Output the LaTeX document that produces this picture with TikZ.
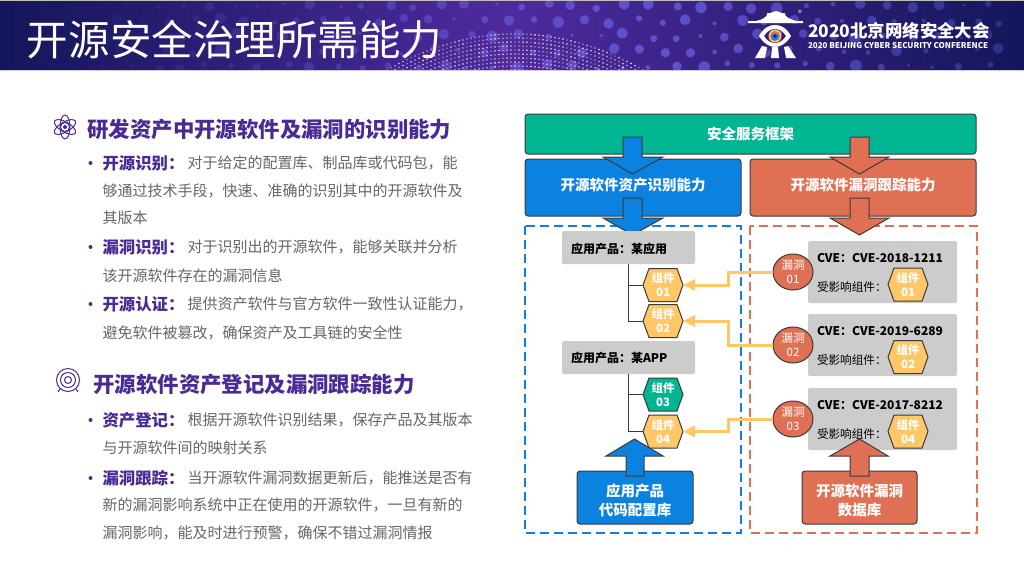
\documentclass[tikz,border=0pt]{standalone}
\usepackage{fontspec}
\setmainfont{Noto Sans CJK SC}
\usepackage{tikz}
\usetikzlibrary{arrows.meta,shapes.symbols,shapes.geometric}
\definecolor{navy}{HTML}{14165A}
\definecolor{violet}{HTML}{4F2A9E}
\definecolor{headpurple}{HTML}{4A2A94}
\definecolor{bodygray}{HTML}{666666}
\definecolor{edge}{HTML}{3A3A3A}
\definecolor{teal}{HTML}{00B692}
\definecolor{azure}{HTML}{0C82E0}
\definecolor{coral}{HTML}{E07054}
\definecolor{amber}{HTML}{FFC766}
\definecolor{panel}{HTML}{CCCCCC}
\newcommand{\px}[1]{\fontsize{#1}{#1}\selectfont}

\begin{document}
\begin{tikzpicture}[x=1pt, y=-1pt, every node/.style={inner sep=0pt, outer sep=0pt},
	head/.style={anchor=west, text=headpurple, font=\px{21.4}\bfseries},
	lead/.style={anchor=west, text=headpurple, font=\px{16.4}\bfseries},
	body/.style={anchor=west, text=bodygray, font=\px{15}},
	dot/.style={circle, fill=headpurple, minimum size=4pt},
	bigbox/.style={draw=edge, line width=1pt, rounded corners=3pt, text=white, font=\px{14.5}\bfseries, align=center, anchor=north west},
	gbox/.style={fill=panel, rounded corners=2pt, anchor=north west},
	label/.style={anchor=west, text=black, font=\px{12}\bfseries},
	hex/.style={draw=edge, line width=1pt, shape=signal, signal to=east and west, signal pointer angle=140, minimum width=40pt, minimum height=33pt, fill=amber, text=white, font=\px{11.5}\bfseries, align=center},
	leak/.style={draw=edge, line width=1pt, ellipse, fill=coral, minimum width=40pt, minimum height=36pt, text=white, font=\px{11.5}, align=center},
	link/.style={draw=amber, line width=3pt, -{Triangle[length=12pt, width=11pt]}},
	tree/.style={draw=edge, line width=1pt},
	fat/.style={draw=edge, line width=1pt, line join=miter},
	dashbox/.style={line width=2pt, dash pattern=on 9pt off 5pt}]
	\useasboundingbox (0,0) rectangle (1024,576);
	\fill[white] (0,0) rectangle (1024,576);

	\begin{scope}
		\clip (0,0) rectangle (1024,70);
		\shade[left color=navy, right color=navy, middle color=violet] (0,0) rectangle (1024,70);
		\pgfmathsetseed{7}
		\foreach \col in {0,...,34}{
			\foreach \row in {0,...,4}{
				\pgfmathsetmacro{\dotx}{100+\col*26+13*mod(\row,2)+rnd*8}
				\pgfmathsetmacro{\doty}{3+\row*15+rnd*6}
				\pgfmathsetmacro{\dotr}{1.5+rnd*4.5}
				\pgfmathsetmacro{\dota}{max(0,0.6-abs(\dotx-660)/1000)}
				\fill[blue!55!white, opacity=\dota] (\dotx,\doty) circle (\dotr);
			}
		}
		\foreach \row in {0,...,10}{
			\foreach \col in {-32,...,32}{
				\pgfmathsetmacro{\dotx}{515+\col*4}
				\pgfmathsetmacro{\doty}{34+\row*4+36*(\col/32)*(\col/32)}
				\pgfmathsetmacro{\dota}{0.35+rnd*0.65}
				\fill[pink!40!white, opacity=\dota] (\dotx,\doty) circle (0.9);
			}
		}
	\end{scope}
	\draw[gray!50, line width=1pt] (0,0.5) -- (1024,0.5);
	\draw[violet!25, line width=1pt] (0,70) -- (1024,70);

	\node[anchor=west, text=white, font=\px{41.5}] (title) at (27,40) {开源安全治理所需能力};

	\fill[white] (748,21) -- (756,21) .. controls (762,20) and (765,18) .. (767,15) -- (767,13) -- (785,13) -- (785,15) .. controls (787,18) and (793,20) .. (796,21) -- (803,21) -- (803,23) -- (748,23) -- cycle;
	\fill[white] (776,11) -- (770,13) -- (782,13) -- cycle;
	\fill[white, even odd rule] (759,36) .. controls (764,27) and (770,25) .. (775,25) .. controls (780,25) and (786,27) .. (791,36) .. controls (786,44) and (780,47) .. (775,47) .. controls (770,47) and (764,44) .. (759,36) -- cycle
		(764,36) .. controls (767,31) and (771,29) .. (775,29) .. controls (779,29) and (783,31) .. (786,36) .. controls (783,41) and (779,43) .. (775,43) .. controls (771,43) and (767,41) .. (764,36) -- cycle;
	\fill[white] (755,58) -- (762,46) -- (767,47) -- (765,58) -- cycle;
	\fill[white] (772,47) -- (778,47) -- (779,58) -- (771,58) -- cycle;
	\fill[white] (796,58) -- (788,46) -- (784,47) -- (786,58) -- cycle;
	\fill[amber] (775,36) circle (6.5);
	\fill[coral] (775,36) circle (5);
	\fill[azure] (775,37) circle (3.5);
	\fill[navy] (775,36) circle (1.8);
	\node[text=white, font=\px{8}] (reg) at (800,13) {®};
	\node[anchor=west, text=white, font=\px{17.4}\bfseries] (conf) at (808,31) {2020北京网络安全大会};
	\node[anchor=west, text=white, font=\px{8}\bfseries] (confen) at (808,46) {2020 BEIJING CYBER SECURITY CONFERENCE};

	\begin{scope}[headpurple, line width=1pt]
		\fill (65,127) circle (2);
		\draw (65,127) circle (4.5);
		\draw (65,127) ellipse (5 and 12);
		\draw[rotate around={60:(65,127)}] (65,127) ellipse (5 and 12);
		\draw[rotate around={120:(65,127)}] (65,127) ellipse (5 and 12);
	\end{scope}
	\node[head] (h1) at (87.5,129) {研发资产中开源软件及漏洞的识别能力};
	\node[dot] (b1) at (90.5,163) {};
	\node[lead] (t1) at (102.5,163) {开源识别：};
	\node[body] (t1a) at (187.5,163) {对于给定的配置库、制品库或代码包，能};
	\node[body] (t1b) at (102.5,191) {够通过技术手段，快速、准确的识别其中的开源软件及};
	\node[body] (t1c) at (102.5,218) {其版本};
	\node[dot] (b2) at (90.5,247) {};
	\node[lead] (t2) at (102.5,247) {漏洞识别：};
	\node[body] (t2a) at (187.5,247) {对于识别出的开源软件，能够关联并分析};
	\node[body] (t2b) at (102.5,276) {该开源软件存在的漏洞信息};
	\node[dot] (b3) at (90.5,304) {};
	\node[lead] (t3) at (102.5,304) {开源认证：};
	\node[body] (t3a) at (187.5,304) {提供资产软件与官方软件一致性认证能力，};
	\node[body] (t3b) at (102.5,333) {避免软件被篡改，确保资产及工具链的安全性};

	\begin{scope}[headpurple, line width=1pt]
		\draw (68,380) circle (11.5);
		\draw (68,380) circle (7.5);
		\draw (68,380) circle (3.5);
		\draw (60,389) -- (58,392);
		\draw (76,389) -- (78,392);
	\end{scope}
	\node[head] (h2) at (93.5,384) {开源软件资产登记及漏洞跟踪能力};
	\node[dot] (b4) at (90.5,420) {};
	\node[lead] (t4) at (102.5,420) {资产登记：};
	\node[body] (t4a) at (187.5,420) {根据开源软件识别结果，保存产品及其版本};
	\node[body] (t4b) at (102.5,448) {与开源软件间的映射关系};
	\node[dot] (b5) at (90.5,478) {};
	\node[lead] (t5) at (102.5,478) {漏洞跟踪：};
	\node[body] (t5a) at (187.5,478) {当开源软件漏洞数据更新后，能推送是否有};
	\node[body] (t5b) at (102.5,505) {新的漏洞影响系统中正在使用的开源软件，一旦有新的};
	\node[body] (t5c) at (102.5,533) {漏洞影响，能及时进行预警，确保不错过漏洞情报};

	\node[bigbox, fill=teal, minimum width=451pt, minimum height=40pt] (frame) at (525,114) {安全服务框架};
	\node[bigbox, fill=azure, minimum width=216pt, minimum height=57pt] (assetcap) at (525,159) {\raisebox{-2.5pt}[0pt][0pt]{开源软件资产识别能力}};
	\node[bigbox, fill=coral, minimum width=226pt, minimum height=57pt] (vulncap) at (750,159) {\raisebox{-2.5pt}[0pt][0pt]{开源软件漏洞跟踪能力}};

	\draw[azure, dashbox] (525,226) rectangle (741,533);
	\draw[coral, dashbox] (750,226) rectangle (977,533);

	\draw[fat, fill=azure] (623,137) -- (642,137) -- (642,157) -- (663,157) -- (632.5,174) -- (603,157) -- (623,157) -- cycle;
	\draw[fat, fill=coral] (850,137) -- (869,137) -- (869,157) -- (889,157) -- (859.5,174) -- (830,157) -- (850,157) -- cycle;
	\draw[fat, fill=azure] (623,198) -- (642,198) -- (642,218) -- (663,218) -- (632.5,235) -- (603,218) -- (623,218) -- cycle;
	\draw[fat, fill=coral] (850,198) -- (869,198) -- (869,218) -- (889,218) -- (859.5,235) -- (830,218) -- (850,218) -- cycle;

	\node[gbox, minimum width=133pt, minimum height=33pt] (app1) at (562,231) {};
	\node[label] (app1t) at (571,249) {应用产品：某应用};
	\node[gbox, minimum width=133pt, minimum height=33pt] (app2) at (562,341) {};
	\node[label] (app2t) at (571,358) {应用产品：某APP};

	\node[hex] (c1) at (663,285) {组件\\[2.5pt]01};
	\node[hex] (c2) at (663,321) {组件\\[2.5pt]02};
	\node[hex, fill=teal] (c3) at (663,394.5) {组件\\[2.5pt]03};
	\node[hex] (c4) at (663,431.5) {组件\\[2.5pt]04};

	\draw[tree] (628,264) |- (c1.west);
	\draw[tree] (628,264) |- (c2.west);
	\draw[tree] (628,374) |- (c3.west);
	\draw[tree] (628,374) |- (c4.west);

	\node[gbox, minimum width=149pt, minimum height=62pt] (cve1) at (808,241) {};
	\node[gbox, minimum width=149pt, minimum height=62pt] (cve2) at (808,314) {};
	\node[gbox, minimum width=149pt, minimum height=62pt] (cve3) at (808,388) {};
	\node[label] (cve1a) at (817,258) {CVE：CVE-2018-1211};
	\node[label] (cve2a) at (817,331) {CVE：CVE-2019-6289};
	\node[label] (cve3a) at (817,405) {CVE：CVE-2017-8212};
	\node[label, font=\px{11.6}] (cve1b) at (817,287) {受影响组件：};
	\node[label, font=\px{11.6}] (cve2b) at (817,360) {受影响组件：};
	\node[label, font=\px{11.6}] (cve3b) at (817,434) {受影响组件：};
	\node[hex] (d1) at (908,284.5) {组件\\[2.5pt]01};
	\node[hex] (d2) at (908,357) {组件\\[2.5pt]02};
	\node[hex] (d3) at (908,431.5) {组件\\[2.5pt]04};

	\node[leak] (v1) at (793,272) {漏洞\\[2.5pt]01};
	\node[leak] (v2) at (793,345) {漏洞\\[2.5pt]02};
	\node[leak] (v3) at (793,419) {漏洞\\[2.5pt]03};

	\draw[link] (v1.west) -| ([xshift=45pt]c1.east) -- (c1.east);
	\draw[link] (v2.west) -| ([xshift=45pt]c2.east) -- (c2.east);
	\draw[link] (v3.west) -| ([xshift=45pt]c4.east) -- (c4.east);

	\node[bigbox, fill=azure, minimum width=116pt, minimum height=53pt, align=center] (repo) at (577,471) {\rule{0pt}{18pt}应用产品\\[4.5pt]代码配置库};
	\node[bigbox, fill=coral, minimum width=115pt, minimum height=53pt, align=center] (vulndb) at (802,471) {\rule{0pt}{18pt}开源软件漏洞\\[4.5pt]数据库};
	\draw[fat, fill=azure] (626,476) -- (644,476) -- (644,456) -- (663,456) -- (634.5,439) -- (606,456) -- (626,456) -- cycle;
	\draw[fat, fill=coral] (850,476) -- (869,476) -- (869,456) -- (888,456) -- (859.5,439) -- (830,456) -- (850,456) -- cycle;
\end{tikzpicture}
\end{document}
